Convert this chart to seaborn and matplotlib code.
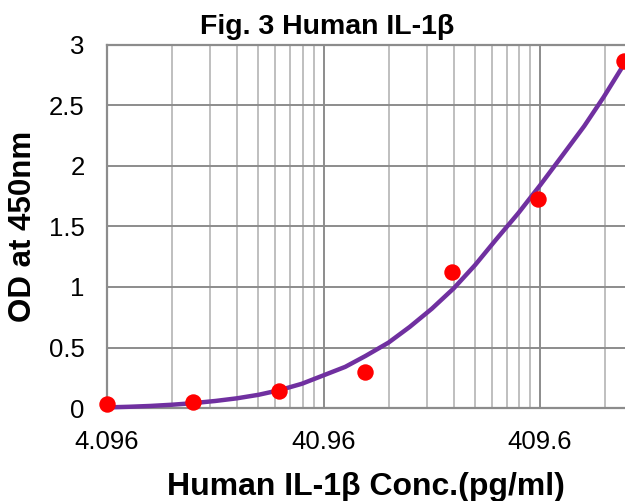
import numpy as np
import matplotlib
matplotlib.use("Agg")
import matplotlib.pyplot as plt
import seaborn as sns
from matplotlib.ticker import FixedLocator, FixedFormatter, NullFormatter

# =============================================================================
# DATA
# =============================================================================

# standard points
conc = [4.096, 10.24, 25.6, 64, 160, 400, 1000]
od = [0.03, 0.05, 0.14, 0.30, 1.12, 1.73, 2.87]

# fitted curve, read at several concentrations
curve_conc = [4.096, 5.16, 6.5, 8.17, 10.24, 12.95, 16.3, 20.5, 25.6, 32.5,
              40.96, 51.6, 64, 81.7, 102.4, 129.5, 163.8, 205, 256, 325,
              409.6, 516, 655.4, 806, 1000]
curve_od = [0.005, 0.010, 0.017, 0.027, 0.040, 0.058, 0.080, 0.109, 0.147, 0.20,
            0.27, 0.34, 0.43, 0.54, 0.67, 0.82, 0.99, 1.18, 1.39, 1.61,
            1.84, 2.08, 2.33, 2.57, 2.84]

x_major = [4.096, 40.96, 409.6]
x_major_labels = ["4.096", "40.96", "409.6"]
y_ticks = [0, 0.5, 1, 1.5, 2, 2.5, 3]
y_tick_labels = ["0", "0.5", "1", "1.5", "2", "2.5", "3"]

TITLE = "Fig. 3 Human IL-1\u03b2"
XLABEL = "Human IL-1\u03b2 Conc.(pg/ml)"
YLABEL = "OD at 450nm"

# =============================================================================
# STYLE
# =============================================================================

LINE_COLOR = "#7030A0"
POINT_COLOR = "#FF0000"
MAJOR_GRID = "#8C8C8C"
MINOR_GRID = "#BFBFBF"
X_MAX = 1011
FONT = ["Liberation Sans", "DejaVu Sans"]


def plot_standard_curve():
    sns.set_style("white")
    plt.rcParams["font.family"] = FONT
    plt.rcParams["text.color"] = "black"
    plt.rcParams["axes.labelcolor"] = "black"

    fig = plt.figure(figsize=(6.25, 5.01), dpi=100)
    ax = fig.add_axes([107 / 625, 1 - 408 / 501, 518 / 625, 363 / 501])

    ax.set_xscale("log")

    sns.lineplot(x=curve_conc, y=curve_od, color=LINE_COLOR, linewidth=3.2,
                 ax=ax, zorder=3, clip_on=False, solid_joinstyle="round")
    sns.scatterplot(x=conc, y=od, color=POINT_COLOR, s=140, linewidth=0,
                    ax=ax, zorder=4, clip_on=False)

    ax.set_xlim(4.096, X_MAX)
    ax.set_ylim(0, 3)

    # excel-style log ticks based on 4.096
    minor = [4.096 * k * 10 ** d for d in range(3) for k in range(2, 10)
             if 4.096 * k * 10 ** d < X_MAX]
    ax.xaxis.set_major_locator(FixedLocator(x_major))
    ax.xaxis.set_major_formatter(FixedFormatter(x_major_labels))
    ax.xaxis.set_minor_locator(FixedLocator(minor))
    ax.xaxis.set_minor_formatter(NullFormatter())
    ax.yaxis.set_major_locator(FixedLocator(y_ticks))
    ax.yaxis.set_major_formatter(FixedFormatter(y_tick_labels))

    ax.grid(True, which="major", axis="both", color=MAJOR_GRID, linewidth=1.4)
    ax.grid(True, which="minor", axis="x", color=MINOR_GRID, linewidth=1.4)
    ax.set_axisbelow(True)

    ax.tick_params(axis="both", which="major", direction="out", length=5,
                   width=1.4, color=MAJOR_GRID, labelsize=18.5, labelcolor="black")
    ax.tick_params(axis="x", which="major", pad=10.5)
    ax.tick_params(axis="y", which="major", pad=11)
    ax.tick_params(axis="x", which="minor", length=0)

    for side in ["left", "bottom", "top"]:
        ax.spines[side].set_color(MAJOR_GRID)
        ax.spines[side].set_linewidth(1.6)
    ax.spines["right"].set_visible(False)

    ax.set_xlabel(XLABEL, fontsize=23, fontweight="bold", color="black")
    ax.set_ylabel(YLABEL, fontsize=22.5, fontweight="bold", color="black")
    ax.xaxis.set_label_coords(0.5, -0.176)
    ax.yaxis.set_label_coords(-0.133, 0.5)

    fig.text(327 / 625, 1 - 34 / 501, TITLE, ha="center", va="baseline",
             fontsize=20.5, fontweight="bold", color="black")

    return fig


def main():
    fig = plot_standard_curve()
    fig.savefig("out.png", dpi=100)
    plt.close(fig)


if __name__ == "__main__":
    main()
